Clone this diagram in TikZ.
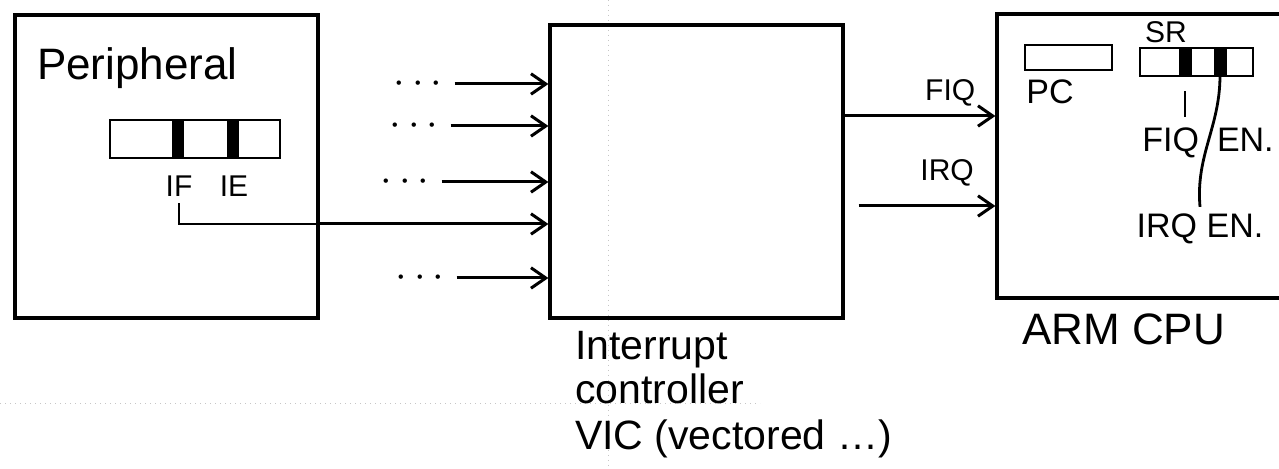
\documentclass[tikz,border=0pt]{standalone}
\usepackage{fontspec}
\setmainfont{Liberation Sans}
\usepackage{tikz}
\usetikzlibrary{positioning,arrows.meta,fit,calc}

\begin{document}
\begin{tikzpicture}[
  x=0.5pt,y=-0.5pt,
  >={Straight Barb[length=2.6mm,width=3.6mm]},
  box/.style={draw,line width=1.6pt,inner sep=0pt},
  reg/.style={draw,line width=1.4pt,inner sep=0pt},
  bit/.style={fill=black,inner sep=0pt,minimum width=6pt,minimum height=18pt},
  sbit/.style={bit,minimum width=6.5pt,minimum height=13pt},
  flow/.style={->,line width=1.5pt},
  link/.style={line width=1.4pt},
  big/.style={font=\fontsize{22}{26}\selectfont},
  ctl/.style={font=\fontsize{20.5}{24}\selectfont},
  mid/.style={font=\fontsize{17}{20}\selectfont},
  small/.style={font=\fontsize{15}{18}\selectfont},
  dotsl/.style={font=\fontsize{21}{22}\selectfont,inner sep=1pt},
  gridl/.style={gray!45,dotted,line width=0.5pt},
]
\clip (0,0) rectangle (1279,469);
% paper grid
\draw[gridl] (0,404) -- (760,404);
\draw[gridl] (608,0) -- (608,469);
% ---------- peripheral ----------
\node[box,fit={(15,15) (318,318)}] (periph) {};
\node[big,anchor=base west] (ptitle) at (30,80) {Peripheral};
\node[reg,fit={(110,120) (280,158)}] (preg) {};
\node[bit] (ifbit) at (178,139) {};
\node[bit] (iebit) at (233,139) {};
\node[small] (iflbl) at (179,186) {IF};
\node[small] (ielbl) at (234,186) {IE};
% ---------- interrupt controller ----------
\node[box,fit={(550,25) (843,318)}] (ctrl) {};
\node[ctl,anchor=base west] (ctitle1) at (568,360) {Interrupt};
\node[ctl,anchor=base west] (ctitle2) at (568,404) {controller};
\node[ctl,anchor=base west] (ctitle3) at (568,450) {VIC (vectored \dots)};
% other sources
\node[dotsl] (d1) at (418,84) {$\cdots$};
\node[dotsl] (d2) at (414,126) {$\cdots$};
\node[dotsl] (d3) at (405,182) {$\cdots$};
\node[dotsl] (d5) at (420,278) {$\cdots$};
% ---------- ARM CPU ----------
\node[box,fit={(997,14) (1330,298)}] (cpu) {};
\node[big,anchor=base west] (cpulbl) at (1015,345) {ARM CPU};
\node[reg,fit={(1025,45) (1112,70)}] (pcreg) {};
\node[mid] (pclbl) at (1050,92) {PC};
\node[reg,fit={(1140,48) (1253,76)}] (srreg) {};
\node[small] (srlbl) at (1166,32) {SR};
\node[sbit] (fqbit) at (1185,62) {};
\node[sbit] (iqbit) at (1220,62) {};
\node[mid] (fiqen) at (1208,143) {FIQ\hspace{9pt}EN.};
\node[mid] (irqen) at (1200,229) {IRQ EN.};
% =================== edges ===================
\coordinate (ify) at (0,224);
\coordinate (fiqy) at (0,116);
\coordinate (irqy) at (0,206);
\draw[link] (iflbl.south) |- (ify -| periph.east);
\draw[flow] (ify -| periph.east) -- (ify -| ctrl.west);
\foreach \n in {d1,d2,d3,d5}{\draw[flow,shorten <=5pt] (\n.east) -- (\n.east -| ctrl.west);}
\draw[flow] (fiqy -| ctrl.east) -- node[small,pos=.7,above=1pt] (fiqlbl) {FIQ} (fiqy -| cpu.west);
\draw[flow,shorten <=7pt] (irqy -| ctrl.east) -- node[small,pos=.68,above=6pt] (irqlbl) {IRQ} (irqy -| cpu.west);
% status bits
\draw[link,shorten <=8pt,shorten >=2pt] (fqbit.south) -- (fqbit.south |- fiqen.north);
\draw[link] (iqbit.south) to[out=-90,in=95] (irqen.north);
\end{tikzpicture}
\end{document}
